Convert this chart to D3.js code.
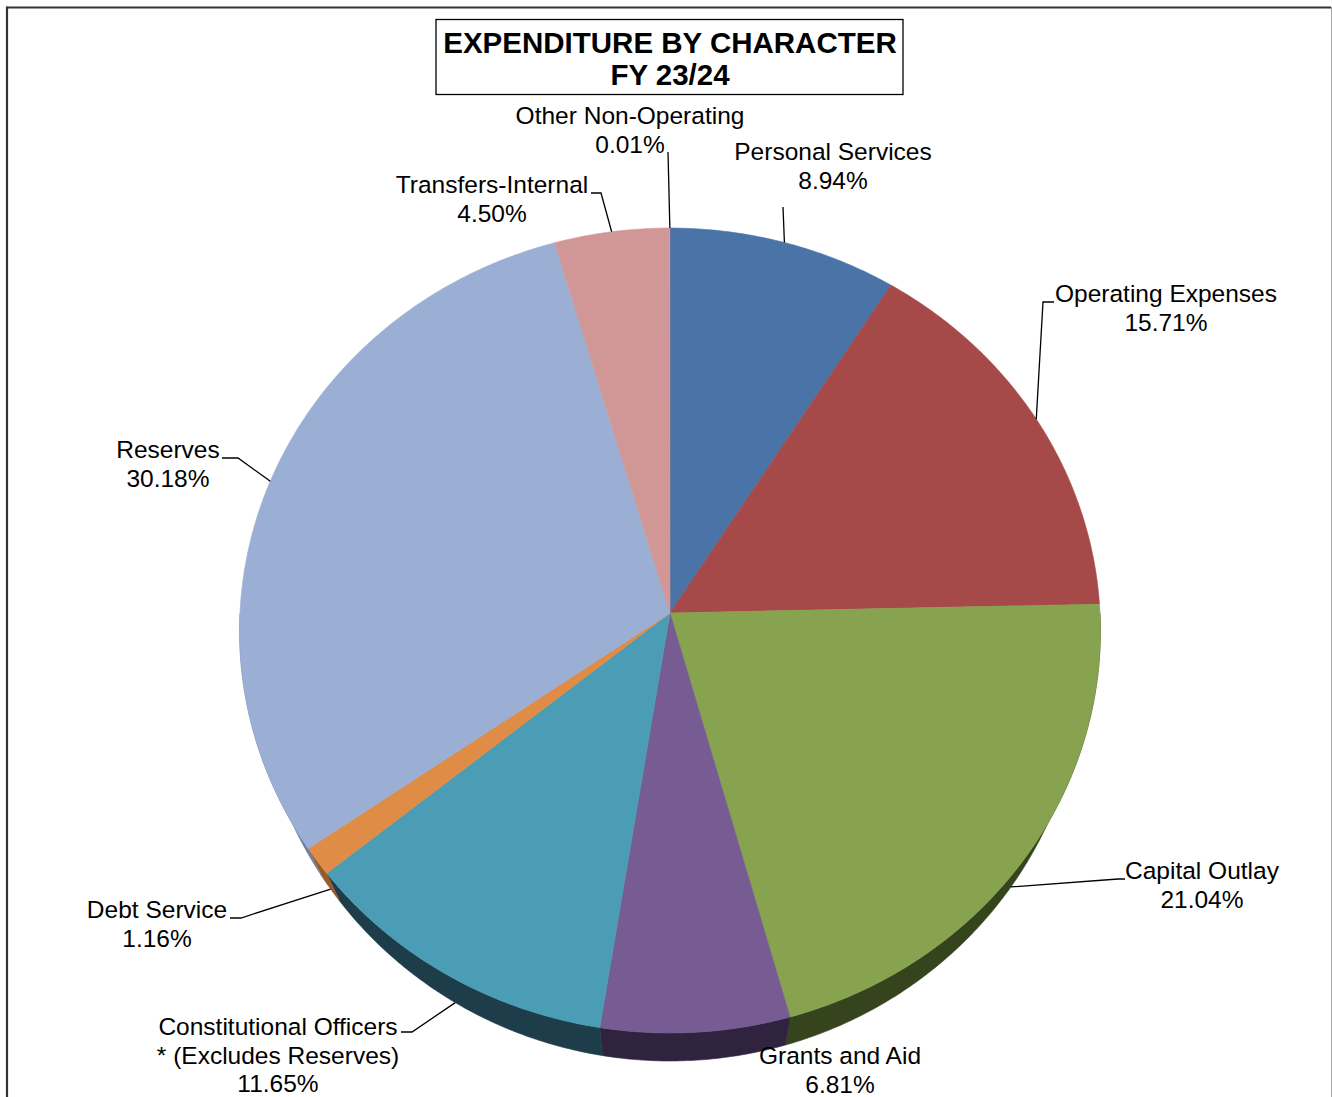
<!DOCTYPE html>
<html>
<head>
<meta charset="utf-8">
<script src="https://cdn.jsdelivr.net/npm/d3@7"></script>
<style>
  body { margin: 0; background: #fff; }
  svg { display: block; }
  text { font-family: "Liberation Sans", Arial, Helvetica, sans-serif; fill: #000; }
</style>
</head>
<body>
<svg id="chart" width="1332" height="1097"></svg>
<script>
// Expenditure shares by character, clockwise from 12 o'clock
const categories = [
  "Personal Services", "Operating Expenses", "Capital Outlay", "Grants and Aid",
  "Constitutional Officers", "Debt Service", "Reserves", "Transfers-Internal",
  "Other Non-Operating"
];
const shares = [8.94, 15.71, 21.04, 6.81, 11.65, 1.16, 30.18, 4.50, 0.01];
const notes = ["", "", "", "", "* (Excludes Reserves)", "", "", "", ""];
const titleLines = ["EXPENDITURE BY CHARACTER", "FY 23/24"];

// Face and wall colours per slice
const faceColors = ["#4a74a8", "#a54a49", "#87a34f", "#765c92", "#4a9db4", "#df8c46", "#9bafd5", "#d19796", "#d0a8a8"];
const wallColors = ["#2a3f5c", "#5c2928", "#36441e", "#2f2340", "#1d3d4a", "#9a5a28", "#6e7fa0", "#7a5554", "#7a5554"];

// Label placement: text centre / first baseline, and the elbow of its leader line
const labelLayout = [
  { x: 833,  y: 160,  elbow: [[783, 207]] },
  { x: 1166, y: 302,  elbow: [[1054, 302], [1043, 302]] },
  { x: 1202, y: 879,  elbow: [[1125, 879], [1118, 879]] },
  { x: 840,  y: 1064, elbow: null },
  { x: 278,  y: 1035, elbow: [[401, 1032], [412, 1032]] },
  { x: 157,  y: 918,  elbow: [[230, 918], [241, 918]] },
  { x: 168,  y: 458,  elbow: [[222, 458], [238, 458]] },
  { x: 492,  y: 193,  elbow: [[591, 193], [601, 193]] },
  { x: 630,  y: 124,  elbow: [[668, 152]] }
];

const svg = d3.select("#chart");
const W = 1332, H = 1097;

// Outer frame
svg.append("line").attr("x1", 7).attr("y1", 7.5).attr("x2", 1331).attr("y2", 7.5)
  .attr("stroke", "#333").attr("stroke-width", 2.2);
svg.append("line").attr("x1", 7).attr("y1", 6.5).attr("x2", 7).attr("y2", H)
  .attr("stroke", "#333").attr("stroke-width", 2.2);
svg.append("line").attr("x1", 1331.5).attr("y1", 7).attr("x2", 1331.5).attr("y2", H)
  .attr("stroke", "#a6a6a6").attr("stroke-width", 1);

// Tilted pie geometry (perspective view of a disc)
const cx = 670, cy = 613, R = 430, K = 401.7, persp = 0.0435;
const depth = 28, wallShrink = 0.962;

function topPt(a) {
  const u = Math.sin(a), v = Math.cos(a), s = 1 / (1 + persp * v);
  return [cx + R * u * s, cy - K * v * s];
}
function basePt(a) {
  const p = topPt(a);
  return [cx + (p[0] - cx) * wallShrink, p[1] + depth];
}
function arcPts(fn, a0, a1) {
  const n = Math.max(2, Math.ceil(Math.abs(a1 - a0) / (Math.PI / 360)));
  return d3.range(n + 1).map(i => fn(a0 + (a1 - a0) * i / n));
}

const arcs = d3.pie().sort(null).value(d => d)(shares);
const line = d3.line();
// slivers too thin to see get no outline
const strokeFor = d => (d.endAngle - d.startAngle) > 0.01 ? 0.6 : 0;

// Side walls (front half only)
const gWalls = svg.append("g");
arcs.forEach((d, i) => {
  const lo = Math.max(d.startAngle, Math.PI / 2);
  const hi = Math.min(d.endAngle, 3 * Math.PI / 2);
  if (hi <= lo) return;
  const pts = arcPts(topPt, lo, hi).concat(arcPts(basePt, hi, lo));
  gWalls.append("path")
    .attr("d", line(pts) + "Z")
    .attr("fill", wallColors[i])
    .attr("stroke", wallColors[i]).attr("stroke-width", strokeFor(d));
});

// Top faces
const gFaces = svg.append("g");
arcs.forEach((d, i) => {
  const pts = [[cx, cy]].concat(arcPts(topPt, d.startAngle, d.endAngle));
  gFaces.append("path")
    .attr("d", line(pts) + "Z")
    .attr("fill", faceColors[i])
    .attr("stroke", faceColors[i]).attr("stroke-width", strokeFor(d))
    .attr("stroke-linejoin", "round");
});

// Leader lines
const gLeaders = svg.append("g");
arcs.forEach((d, i) => {
  const lay = labelLayout[i];
  if (!lay.elbow) return;
  const mid = (d.startAngle + d.endAngle) / 2;
  const front = mid > Math.PI / 2 && mid < 3 * Math.PI / 2;
  const target = front ? basePt(mid) : topPt(mid);
  gLeaders.append("path")
    .attr("d", line(lay.elbow.concat([target])))
    .attr("fill", "none").attr("stroke", "#000").attr("stroke-width", 1.3);
});

// Data labels
const fmt = d3.format(".2f");
const gLabels = svg.append("g").attr("font-size", "24.5px").attr("text-anchor", "middle");
arcs.forEach((d, i) => {
  const lay = labelLayout[i];
  const lines = [categories[i]];
  if (notes[i]) lines.push(notes[i]);
  lines.push(fmt(shares[i]) + "%");
  const t = gLabels.append("text").attr("x", lay.x).attr("y", lay.y);
  lines.forEach((s, j) => {
    t.append("tspan").attr("x", lay.x).attr("dy", j === 0 ? 0 : 28.6).text(s);
  });
});

// Title box
svg.append("rect").attr("x", 436).attr("y", 19.5).attr("width", 467).attr("height", 75)
  .attr("fill", "#fff").attr("stroke", "#000").attr("stroke-width", 1.3);
const title = svg.append("text").attr("text-anchor", "middle")
  .attr("font-size", "29.5px").attr("font-weight", "bold");
titleLines.forEach((s, j) => {
  title.append("tspan").attr("x", 670).attr("y", 53 + j * 32).text(s);
});
</script>
</body>
</html>
